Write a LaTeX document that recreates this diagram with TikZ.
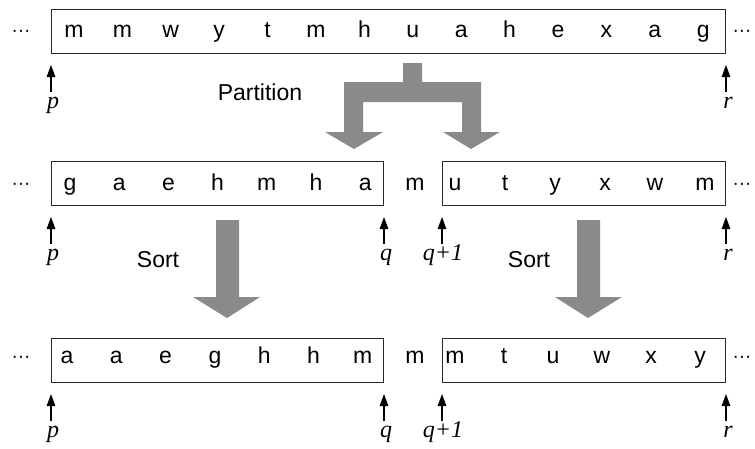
\documentclass[tikz,border=0pt]{standalone}
\usepackage{fontspec}
\setmainfont{Liberation Sans}
\newfontfamily\ptrfont{Liberation Serif}
\usetikzlibrary{arrows.meta}
\definecolor{blockgray}{RGB}{138,138,138}
\definecolor{framecol}{RGB}{40,40,40}
\begin{document}
\begin{tikzpicture}[x=1pt, y=-1pt,
  cellrow/.style={draw=framecol, line width=1pt, inner sep=0pt, anchor=north west},
  ch/.style={anchor=base, inner sep=0pt, font=\fontsize{23}{27}\selectfont},
  dotsym/.style={anchor=base, inner sep=0pt, font=\fontsize{19}{23}\selectfont},
  idx/.style={anchor=base, inner sep=0pt, font=\fontsize{24}{28}\selectfont\ptrfont\itshape},
  ptr/.style={-{Triangle[length=12pt,width=8.5pt]}, line width=1.2pt, shorten >=11pt},
  bigarrow/.style={fill=blockgray, draw=none}]
\useasboundingbox (0,0) rectangle (755,448);

% ---------- input array ----------
\node[cellrow, minimum width=674pt, minimum height=44pt] (top) at (51,9) {};
\foreach \c [count=\i from 0] in {m,m,w,y,t,m,h,u,a,h,e,x,a,g}
  \node[ch] (t\i) at (74+48.4*\i, 37) {\c};
\node[dotsym] (tdl) at (21,36) {···};
\node[dotsym] (tdr) at (742,36) {···};
\draw[ptr] ([yshift=-38pt]top.south west) -- (top.south west);
\draw[ptr] ([yshift=-38pt]top.south east) -- (top.south east);
\node[idx] (tp) at ([xshift=2pt,yshift=-54pt]top.south west) {p};
\node[idx] (tr) at ([xshift=2pt,yshift=-54pt]top.south east) {r};

% ---------- partition step ----------
\node[ch] (lpart) at (260,100) {Partition};
\fill[bigarrow] (403,63) -- (422,63) -- (422,82) -- (481,82) -- (481,132)
  -- (500,132) -- (471,149) -- (443,132) -- (462,132) -- (462,102)
  -- (363,102) -- (363,132) -- (383,132) -- (354,149) -- (325,132)
  -- (344,132) -- (344,82) -- (403,82) -- cycle;

% ---------- partitioned array ----------
\node[cellrow, minimum width=332pt, minimum height=44pt] (ml) at (51,161) {};
\node[cellrow, minimum width=283pt, minimum height=44pt] (mr) at (442,161) {};
\foreach \c [count=\i from 0] in {g,a,e,h,m,h,a}
  \node[ch] (ma\i) at (70+49.2*\i, 190) {\c};
\foreach \c [count=\i from 0] in {u,t,y,x,w,m}
  \node[ch] (mb\i) at (455+50*\i, 190) {\c};
\node[ch] (mpiv) at (415,190) {m};
\node[dotsym] (mdl) at (21,189) {···};
\node[dotsym] (mdr) at (742,189) {···};
\draw[ptr] ([yshift=-38pt]ml.south west) -- (ml.south west);
\draw[ptr] ([yshift=-38pt]ml.south east) -- (ml.south east);
\draw[ptr] ([yshift=-38pt]mr.south west) -- (mr.south west);
\draw[ptr] ([yshift=-38pt]mr.south east) -- (mr.south east);
\node[idx] (mp) at ([xshift=2pt,yshift=-54pt]ml.south west) {p};
\node[idx] (mq) at ([xshift=2pt,yshift=-54pt]ml.south east) {q};
\node[idx] (mq1) at ([xshift=1pt,yshift=-54pt]mr.south west) {q+1};
\node[idx] (mrr) at ([xshift=2pt,yshift=-54pt]mr.south east) {r};

% ---------- sort steps ----------
\node[ch] (lsort1) at (158,267) {Sort};
\node[ch] (lsort2) at (529,267) {Sort};
\fill[bigarrow] (216,220) -- (239,220) -- (239,297) -- (260,297) -- (227,318)
  -- (193,297) -- (216,297) -- cycle;
\fill[bigarrow] (577,220) -- (600,220) -- (600,297) -- (622,297) -- (588,318)
  -- (555,297) -- (577,297) -- cycle;

% ---------- sorted array ----------
\node[cellrow, minimum width=332pt, minimum height=44pt] (bl) at (51,338) {};
\node[cellrow, minimum width=283pt, minimum height=44pt] (br) at (442,338) {};
\foreach \c [count=\i from 0] in {a,a,e,g,h,h,m}
  \node[ch] (ba\i) at (67+49.3*\i, 363) {\c};
\foreach \c [count=\i from 0] in {m,t,u,w,x,y}
  \node[ch] (bb\i) at (455+49*\i, 363) {\c};
\node[ch] (bpiv) at (415,363) {m};
\node[dotsym] (bdl) at (21,362) {···};
\node[dotsym] (bdr) at (742,362) {···};
\draw[ptr] ([yshift=-38pt]bl.south west) -- (bl.south west);
\draw[ptr] ([yshift=-38pt]bl.south east) -- (bl.south east);
\draw[ptr] ([yshift=-38pt]br.south west) -- (br.south west);
\draw[ptr] ([yshift=-38pt]br.south east) -- (br.south east);
\node[idx] (bp) at ([xshift=2pt,yshift=-54pt]bl.south west) {p};
\node[idx] (bq) at ([xshift=2pt,yshift=-54pt]bl.south east) {q};
\node[idx] (bq1) at ([xshift=1pt,yshift=-54pt]br.south west) {q+1};
\node[idx] (brr) at ([xshift=2pt,yshift=-54pt]br.south east) {r};
\end{tikzpicture}
\end{document}
